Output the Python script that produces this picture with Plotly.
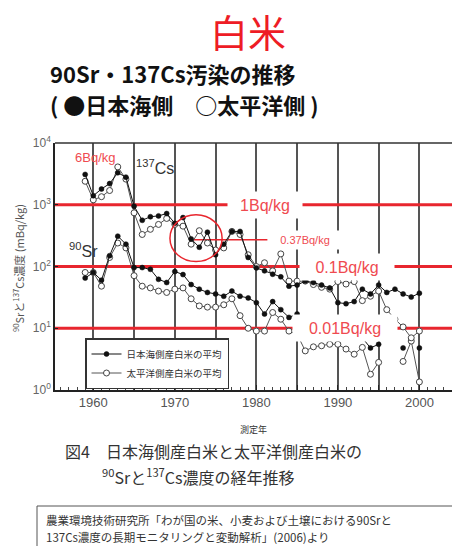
import numpy as np
import plotly.graph_objects as go

# ---------------- data (mBq/kg) ----------------
years = list(range(1959, 2001))
cs_japan_sea = [3100, 1400, 1800, 2200, 3300, 2800, 950, 560, 640, 660,
                720, 500, 620, 280, 205, 360, 155, 230, 370, 370,
                140, 95, 85, 75, 68, 48, 50, 58, 55, 50,
                45, 26, 25, 27, 43, 36, 50, 38, 43, 36,
                32, 37]
cs_pacific = [2400, 1200, 1350, 1700, 4100, 2600, 740, 330, 400, 480,
              600, 480, 450, 230, 380, 240, 185, 200, 370, 330,
              155, 100, 115, 85, 160, 58, 58, 58, 51, 46,
              43, 57, 52, 57, 28, 33, 40, 20, 14, 10.5,
              7, 9]
sr_japan_sea = [65, 80, 60, 150, 310, 230, 96, 96, 90, 62,
                55, 83, 74, 51, 43, 38, 36, 33, 40, 33,
                31, 26, 17, 27, 20, 15, 17, 12, 11, 10,
                10, 14, 9, 8, 7, 4.8, 5.5, None, None, 4.8,
                None, 4.8]
sr_pacific = [80, 80, 48, 140, 240, 200, 71, 48, 45, 40,
              38, 43, 45, 30, 23, 22, 22, 24, 30, 16,
              10, 9, 9, 18, 14, 9, 8, 4.3, 5, 5.2,
              5.5, 5.5, 4.6, 3.8, 4.9, 1.8, 2.8, None, None, 2.9,
              6.2, 1.35]

legend_names = ["日本海側産白米の平均", "太平洋側産白米の平均"]
threshold_values = [1000, 100, 10]
threshold_labels = ["1Bq/kg", "0.1Bq/kg", "0.01Bq/kg"]
threshold_label_years = [1981.1, 1991.1, 1990.9]
threshold_label_widths = [72, 92, 102]
note_value = 270            # line marked "0.37Bq/kg"
note_years = [1972.3, 1981.4]
note_label = "0.37Bq/kg"
x_ticks = [1960, 1965, 1970, 1975, 1980, 1985, 1990, 1995, 2000]
x_ticktext = ["1960", "", "1970", "", "1980", "", "1990", "", "2000"]
y_ticks = [1, 10, 100, 1000, 10000]
y_ticktext = ["10<sup>0</sup>", "10<sup>1</sup>", "10<sup>2</sup>",
              "10<sup>3</sup>", "10<sup>4</sup>"]

X_RANGE = [1955.3, 2004.0]
RED = "#e8262e"
RED_TXT = "#ef4a50"
CJK = "Noto Sans CJK JP"

# plot area in pixels: left 55, right 452, top 143, bottom 390
def px(x):
    return (x - 55) / 397.0

def py(y):
    return (390 - y) / 247.0

fig = go.Figure()

# threshold lines
for v in threshold_values:
    fig.add_trace(go.Scatter(x=X_RANGE, y=[v, v], mode="lines",
                             line=dict(color=RED, width=3),
                             showlegend=False, hoverinfo="skip"))
fig.add_trace(go.Scatter(x=note_years, y=[note_value, note_value], mode="lines",
                         line=dict(color=RED, width=1.5),
                         showlegend=False, hoverinfo="skip"))

open_marker = dict(symbol="circle", size=6, color="white",
                   line=dict(color="#444", width=1))
filled_marker = dict(symbol="circle", size=5, color="#111",
                     line=dict(color="#111", width=0.5))

fig.add_trace(go.Scatter(x=years, y=sr_pacific, mode="lines+markers",
                         line=dict(color="#555", width=1), marker=open_marker,
                         showlegend=False, connectgaps=False))
fig.add_trace(go.Scatter(x=years, y=cs_pacific, mode="lines+markers",
                         line=dict(color="#555", width=1), marker=open_marker,
                         name=legend_names[1], legendrank=2, connectgaps=False))
fig.add_trace(go.Scatter(x=years, y=sr_japan_sea, mode="lines+markers",
                         line=dict(color="#111", width=1), marker=filled_marker,
                         showlegend=False, connectgaps=False))
fig.add_trace(go.Scatter(x=years, y=cs_japan_sea, mode="lines+markers",
                         line=dict(color="#111", width=1), marker=filled_marker,
                         name=legend_names[0], legendrank=1, connectgaps=False))

annotations = []
# threshold labels (white boxes over the lines)
for v, lab, yr, w in zip(threshold_values, threshold_labels,
                         threshold_label_years, threshold_label_widths):
    annotations.append(dict(x=yr, y=np.log10(v), xref="x", yref="y",
                            text=lab, showarrow=False, bgcolor="white",
                            width=w, height=24, yanchor="middle",
                            font=dict(size=16, color=RED_TXT,
                                      family="Liberation Sans, Arial")))
annotations.append(dict(x=1986.0, y=np.log10(note_value), xref="x", yref="y",
                        text=note_label, showarrow=False, bgcolor="white",
                        width=72, height=16, yanchor="middle",
                        font=dict(size=11, color=RED_TXT,
                                  family="Liberation Sans, Arial")))
annotations.append(dict(x=1960.2, y=3.77, xref="x", yref="y", text="6Bq/kg",
                        showarrow=False, yanchor="middle",
                        font=dict(size=13, color=RED_TXT,
                                  family="Liberation Sans, Arial")))
annotations.append(dict(x=1967.6, y=3.61, xref="x", yref="y",
                        text="<sup>137</sup>Cs", showarrow=False, yanchor="middle",
                        font=dict(size=16, color="#333",
                                  family="Liberation Sans, Arial")))
annotations.append(dict(x=1958.8, y=2.27, xref="x", yref="y",
                        text="<sup>90</sup>Sr", showarrow=False, yanchor="middle",
                        font=dict(size=16, color="#333",
                                  family="Liberation Sans, Arial")))

def paper_text(x, y, text, size, color="#333", xanchor="center", bold=False,
               angle=0):
    return dict(x=px(x), y=py(y), xref="paper", yref="paper",
                xanchor=xanchor, yanchor="middle",
                text=("<b>%s</b>" % text) if bold else text,
                showarrow=False, textangle=angle,
                font=dict(size=size, color=color, family=CJK))

# titles
annotations.append(paper_text(248, 30, "白米", 38, color="#ee1c25"))
annotations.append(paper_text(48, 73, "90Sr・137Cs汚染の推移", 22,
                              color="#111", xanchor="left", bold=True))
annotations.append(paper_text(48, 104, "( ●日本海側　○太平洋側 )", 22,
                              color="#111", xanchor="left", bold=True))
# y-axis title
annotations.append(paper_text(18, 268,
                              "<sup>90</sup>Srと<sup>137</sup>Cs濃度 (mBq/kg)",
                              11, color="#555", angle=-90))
# x-axis title
annotations.append(paper_text(253, 429, "測定年", 9))
# caption
annotations.append(paper_text(63, 451, "図4　日本海側産白米と太平洋側産白米の",
                              16, xanchor="left"))
annotations.append(paper_text(100, 476,
                              "<sup>90</sup>Srと<sup>137</sup>Cs濃度の経年推移",
                              16, xanchor="left"))
# source
annotations.append(paper_text(44, 520,
                              "農業環境技術研究所「わが国の米、小麦および土壌における90Srと",
                              11.5, xanchor="left"))
annotations.append(paper_text(44, 537,
                              "137Cs濃度の長期モニタリングと変動解析」(2006)より",
                              11.5, xanchor="left"))

shapes = [
    # top frame
    dict(type="line", xref="paper", yref="paper", x0=0, x1=1, y0=1, y1=1,
         line=dict(color="#333", width=1.5)),
    # highlight circle
    dict(type="circle", xref="x", yref="y", x0=1969.4, x1=1975.8,
         y0=120, y1=690, line=dict(color=RED, width=1.5)),
    # source box
    dict(type="rect", xref="paper", yref="paper", x0=px(37), x1=px(470),
         y0=py(506), y1=py(570), line=dict(color="#555", width=1)),
]

fig.update_layout(
    width=452, height=546, autosize=False,
    margin=dict(l=55, r=0, t=143, b=156),
    plot_bgcolor="white", paper_bgcolor="white",
    font=dict(family="Liberation Sans, Arial, " + CJK),
    showlegend=True,
    legend=dict(x=px(85), y=py(338), xanchor="left", yanchor="top",
                bgcolor="white", bordercolor="#333", borderwidth=1.5,
                font=dict(size=9.5, color="#333", family=CJK),
                tracegroupgap=0, itemwidth=30),
    annotations=annotations,
    shapes=shapes,
)
fig.update_xaxes(range=X_RANGE, tickvals=x_ticks, ticktext=x_ticktext,
                 showgrid=True, gridcolor="#555", gridwidth=1.5,
                 showline=True, linecolor="#222", linewidth=1.5,
                 ticks="inside", ticklen=5, tickcolor="#222",
                 minor=dict(dtick=1, tick0=1955, ticks="inside", ticklen=3,
                            tickcolor="#444", showgrid=False),
                 zeroline=False,
                 tickfont=dict(size=13, color="#555"))
fig.update_yaxes(type="log", range=[0, 4], tickvals=y_ticks, ticktext=y_ticktext,
                 showgrid=False, showline=True, linecolor="#222", linewidth=1.5,
                 ticks="inside", ticklen=3, tickcolor="#222", zeroline=False,
                 tickfont=dict(size=12, color="#666"))

fig.write_html("out.html",
               config={"displayModeBar": False},
               post_script="document.body.style.margin='0';"
                           "document.body.style.padding='0';")
